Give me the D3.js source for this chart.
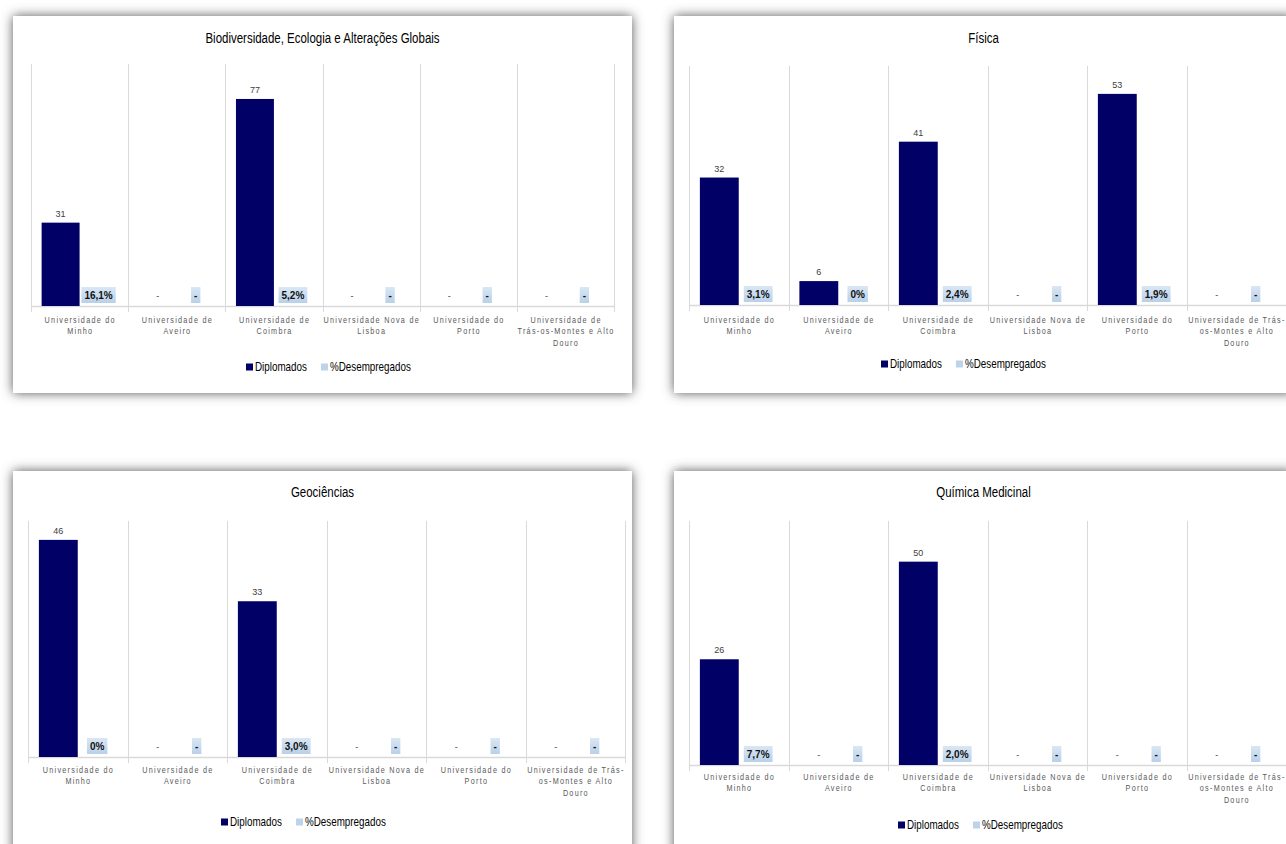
<!DOCTYPE html>
<html>
<head>
<meta charset="utf-8">
<script src="https://cdn.jsdelivr.net/npm/d3@7"></script>
<style>
  html, body { margin: 0; padding: 0; background: #ffffff; }
  svg { display: block; }
  text { font-family: "Liberation Sans", Arial, sans-serif; }
</style>
</head>
<body>
<svg id="chart" width="1286" height="844"></svg>
<script>
// ---------------- DATA ----------------
const categories = [
  "Universidade do Minho",
  "Universidade de Aveiro",
  "Universidade de Coimbra",
  "Universidade Nova de Lisboa",
  "Universidade do Porto",
  "Universidade de Trás-os-Montes e Alto Douro"
];
// tick labels as wrapped in the original charts
const tickLabelsBio = [
  ["Universidade do", "Minho"],
  ["Universidade de", "Aveiro"],
  ["Universidade de", "Coimbra"],
  ["Universidade Nova de", "Lisboa"],
  ["Universidade do", "Porto"],
  ["Universidade de", "Trás-os-Montes e Alto", "Douro"]
];
const tickLabelsOther = [
  ["Universidade do", "Minho"],
  ["Universidade de", "Aveiro"],
  ["Universidade de", "Coimbra"],
  ["Universidade Nova de", "Lisboa"],
  ["Universidade do", "Porto"],
  ["Universidade de Trás-", "os-Montes e Alto", "Douro"]
];
const seriesNames = ["Diplomados", "%Desempregados"];
const chartTitles = [
  "Biodiversidade, Ecologia e Alterações Globais",
  "Física",
  "Geociências",
  "Química Medicinal"
];
// Diplomados per category (null = "-")
const diplomadosBiodiversidade = [31, null, 77, null, null, null];
const diplomadosFisica         = [32, 6, 41, null, 53, null];
const diplomadosGeociencias    = [46, null, 33, null, null, null];
const diplomadosQuimicaMed     = [26, null, 50, null, null, null];
// %Desempregados per category (null = "-")
const desempBiodiversidade = [16.1, null, 5.2, null, null, null];
const desempFisica         = [3.1, 0, 2.4, null, 1.9, null];
const desempGeociencias    = [0, null, 3.0, null, null, null];
const desempQuimicaMed     = [7.7, null, 2.0, null, null, null];
// value-axis maxima (hidden axis)
const yAxisMax = [90, 60, 50, 60];

const diplomadosAll = [diplomadosBiodiversidade, diplomadosFisica, diplomadosGeociencias, diplomadosQuimicaMed];
const desempAll = [desempBiodiversidade, desempFisica, desempGeociencias, desempQuimicaMed];
const tickLabelsAll = [tickLabelsBio, tickLabelsOther, tickLabelsOther, tickLabelsOther];

// ---------------- LAYOUT ----------------
const layouts = [
  {px: 13,  py: 16,  pw: 619, ph: 377, L: 31,  R: 614,  T: 64,  B: 306, titleY: 38,  labelY: 320, legendX: 246, legendY: 367},
  {px: 674, py: 16,  pw: 619, ph: 377, L: 689, R: 1286, T: 66,  B: 305, titleY: 38,  labelY: 320, legendX: 881, legendY: 364},
  {px: 13,  py: 471, pw: 619, ph: 390, L: 28,  R: 625,  T: 521, B: 757, titleY: 492, labelY: 770, legendX: 221, legendY: 822},
  {px: 674, py: 471, pw: 619, ph: 390, L: 689, R: 1286, T: 521, B: 765, titleY: 492, labelY: 777, legendX: 898, legendY: 825}
];
const colors = {dipl: "#000066", grid: "#d9d9d9", axisText: "#595959", valText: "#404040"};
const NARROW = 0.82;      // horizontal compression for title / legend
const AX_SX = 0.85;       // compression for axis labels
const AX_FS = 8.5, AX_LS = 1.5;

const svg = d3.select("#chart");
const defs = svg.append("defs");
const f = defs.append("filter").attr("id", "shadow").attr("x", "-10%").attr("y", "-10%").attr("width", "120%").attr("height", "120%");
f.append("feDropShadow").attr("dx", 0).attr("dy", 0).attr("stdDeviation", 6).attr("flood-color", "#555555").attr("flood-opacity", 1);
const grad = defs.append("linearGradient").attr("id", "lblGrad").attr("x1", 0).attr("y1", 0).attr("x2", 0).attr("y2", 1);
grad.append("stop").attr("offset", "0%").attr("stop-color", "#dae7f4");
grad.append("stop").attr("offset", "100%").attr("stop-color", "#b8d0e9");

function fmtPct(v) {
  if (v === null) return "-";
  if (v === 0) return "0%";
  return v.toFixed(1).replace(".", ",") + "%";
}

function narrowText(parent, x, y, str, size, anchor, sx) {
  const gg = parent.append("g").attr("transform", `translate(${x},${y}) scale(${sx},1)`);
  return gg.append("text").attr("x", 0).attr("y", 0).attr("dy", "0.35em").attr("text-anchor", anchor)
    .style("font-size", size + "px").attr("fill", "#000").text(str);
}

layouts.forEach((lay, i) => {
  const g = svg.append("g");
  g.append("rect").attr("x", lay.px).attr("y", lay.py).attr("width", lay.pw).attr("height", lay.ph)
    .attr("fill", "#ffffff").attr("filter", "url(#shadow)");

  const x = d3.scaleBand().domain(categories).range([lay.L, lay.R]).padding(0);
  const xs = d3.scaleBand().domain(seriesNames).range([0, x.bandwidth()]).paddingInner(0).paddingOuter(0.28);
  const y = d3.scaleLinear().domain([0, yAxisMax[i]]).range([lay.B, lay.T]);

  // title
  narrowText(g, lay.px + lay.pw / 2, lay.titleY, chartTitles[i], 14, "middle", NARROW);

  // vertical gridlines at category boundaries
  const bounds = categories.map(c => x(c)).concat([lay.R]);
  g.selectAll(".vg").data(bounds).enter().append("line")
    .attr("x1", d => Math.round(d) + 0.5).attr("x2", d => Math.round(d) + 0.5)
    .attr("y1", lay.T).attr("y2", lay.B + 6)
    .attr("stroke", colors.grid).attr("stroke-width", 1);
  // baseline
  g.append("line").attr("x1", lay.L).attr("x2", lay.R).attr("y1", Math.round(y(0)) + 0.5).attr("y2", Math.round(y(0)) + 0.5)
    .attr("stroke", colors.grid).attr("stroke-width", 1.5);

  const dipl = diplomadosAll[i];
  const pct = desempAll[i];

  // Diplomados bars
  g.selectAll(".bar").data(categories.map((c, k) => ({c, v: dipl[k]})).filter(d => d.v !== null))
    .enter().append("rect")
    .attr("x", d => x(d.c) + xs("Diplomados"))
    .attr("width", xs.bandwidth())
    .attr("y", d => y(d.v))
    .attr("height", d => y(0) - y(d.v))
    .attr("fill", colors.dipl);

  // Diplomados labels
  g.selectAll(".dl").data(categories.map((c, k) => ({c, v: dipl[k]})))
    .enter().append("text")
    .attr("x", d => x(d.c) + xs("Diplomados") + xs.bandwidth() / 2)
    .attr("y", d => d.v === null ? y(0) - 10 : y(d.v) - 6)
    .attr("dy", d => d.v === null ? "0.35em" : "0")
    .attr("text-anchor", "middle")
    .style("font-size", "9px")
    .attr("fill", colors.valText)
    .text(d => d.v === null ? "-" : d.v);

  // %Desempregados labels with boxes
  categories.forEach((c, k) => {
    const cx = x(c) + xs("%Desempregados") + xs.bandwidth() / 2;
    const cy = y(0) - 11;
    const t = g.append("text").attr("x", cx).attr("y", cy).attr("dy", "0.35em").attr("text-anchor", "middle")
      .style("font-size", "10px").style("font-weight", "bold")
      .attr("fill", "#111").text(fmtPct(pct[k]));
    const w = t.node().getComputedTextLength() + 6;
    g.insert("rect", () => t.node()).attr("x", cx - w / 2).attr("y", cy - 8).attr("width", w).attr("height", 16)
      .attr("fill", "url(#lblGrad)");
  });

  // category tick labels
  categories.forEach((c, k) => {
    const lines = tickLabelsAll[i][k];
    const cx = x(c) + x.bandwidth() / 2;
    const gg = g.append("g").attr("transform", `translate(${cx},${lay.labelY}) scale(${AX_SX},1)`);
    const t = gg.append("text").attr("text-anchor", "middle")
      .style("font-size", AX_FS + "px").style("letter-spacing", AX_LS + "px").attr("fill", colors.axisText);
    lines.forEach((ln, li) => {
      t.append("tspan").attr("x", AX_LS / 2).attr("y", li * 11.3).attr("dy", "0.35em").text(ln);
    });
  });

  // legend
  const lg = g.append("g").attr("transform", `translate(${lay.legendX},${lay.legendY})`);
  let lx = 0;
  seriesNames.forEach((s, k) => {
    lg.append("rect").attr("x", lx).attr("y", -3.5).attr("width", 7).attr("height", 7)
      .attr("fill", k === 0 ? colors.dipl : "#bcd3ea");
    const tt = narrowText(lg, lx + 9, 0, s, 12, "start", NARROW);
    lx += 9 + tt.node().getComputedTextLength() * NARROW + 14;
  });
});
</script>
</body>
</html>
